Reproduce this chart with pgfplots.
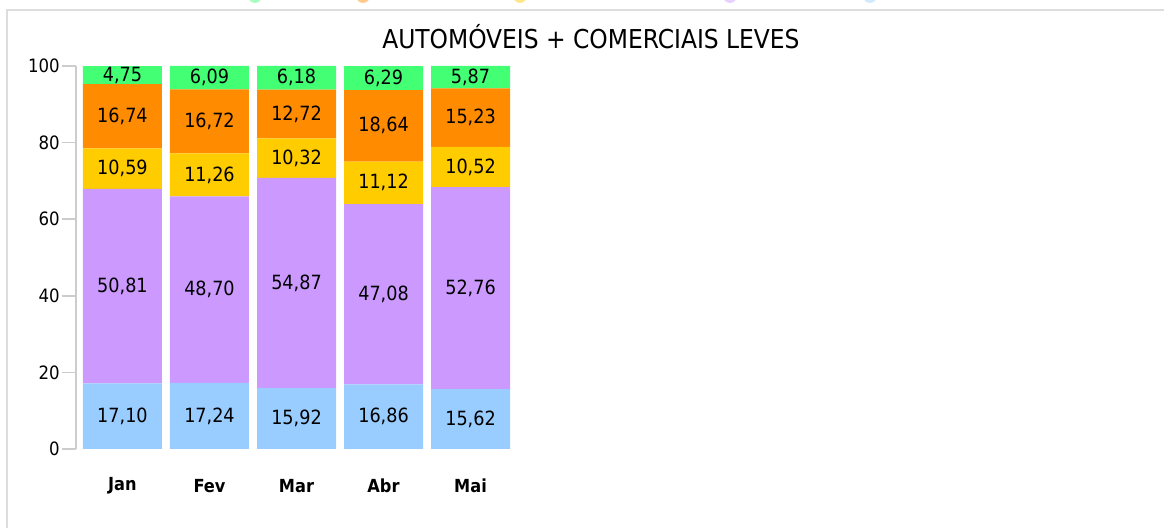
\documentclass[border=0pt]{standalone}
\usepackage{fontspec}
\setmainfont{DejaVu Sans Condensed}
\usepackage{pgfplots}
\usepackage{pgfplotstable}
\pgfplotsset{compat=1.18}

\definecolor{cblue}{HTML}{99CCFF}
\definecolor{cpurple}{HTML}{CC99FF}
\definecolor{cyellow}{HTML}{FFCC00}
\definecolor{corange}{HTML}{FF8C00}
\definecolor{cgreen}{HTML}{42FF74}
\definecolor{frame}{HTML}{DDDDDD}
\definecolor{axisgray}{HTML}{CCCCCC}

% share per month, bottom to top
\pgfplotstableread{
x blue purple yellow orange green
0 17.10 50.81 10.59 16.74 4.75
1 17.24 48.70 11.26 16.72 6.09
2 15.92 54.87 10.32 12.72 6.18
3 16.86 47.08 11.12 18.64 6.29
4 15.62 52.76 10.52 15.23 5.87
}\shares

\begin{document}
\begin{tikzpicture}
\useasboundingbox (0,0) rectangle (582pt,264pt);
% frame of the chart box (top and left edges visible)
\draw[frame, line width=1pt] (3.5pt,0) -- (3.5pt,259pt) -- (582pt,259pt);
% legend markers cut off at the top edge
\foreach \px/\c in {255/cgreen,363/corange,520/cyellow,730/cpurple,870/cblue}
  \fill[\c, opacity=0.45] (\px*0.5pt,266pt) circle (3.5pt);

\node[font=\fontsize{13}{15}\selectfont] at (295.5pt,245.5pt) {AUTOMÓVEIS + COMERCIAIS LEVES};

\begin{axis}[
    at={(38pt,39.5pt)}, anchor=south west,
    scale only axis,
    width=220.5pt, height=191.6pt,
    xmin=-0.534, xmax=4.534,
    ymin=0, ymax=100.05,
    ybar stacked,
    bar width=39.5pt,
    axis y line*=left,
    axis x line*=bottom,
    x axis line style={draw=none},
    y axis line style={draw=axisgray, line width=0.8pt},
    xtick={0,1,2,3,4},
    xticklabels={Jan,Fev,Mar,Abr,Mai},
    xtick style={draw=none},
    xticklabel style={font=\fontsize{9}{11}\selectfont\bfseries, anchor=center, yshift=-11.5pt},
    ytick={0,20,40,60,80,100},
    tick align=outside,
    major tick length=7pt,
    ytick style={draw=axisgray, line width=0.8pt},
    yticklabel style={font=\fontsize{9.2}{11}\selectfont, inner sep=1pt},
    /pgf/number format/assume math mode=true,
    point meta=explicit,
    % stacked labels sit in the middle of each segment
    nodes near coords={\pgfmathprintnumber[fixed, fixed zerofill, precision=2, use comma]{\pgfplotspointmeta}},
    every node near coord/.append style={font=\fontsize{9.8}{11}\selectfont, anchor=center},
]
\addplot[fill=cblue, draw=none] table[x=x, y=blue, meta=blue] {\shares};
\addplot[fill=cpurple, draw=none] table[x=x, y=purple, meta=purple] {\shares};
\addplot[fill=cyellow, draw=none] table[x=x, y=yellow, meta=yellow] {\shares};
\addplot[fill=corange, draw=none] table[x=x, y=orange, meta=orange] {\shares};
\addplot[fill=cgreen, draw=none] table[x=x, y=green, meta=green] {\shares};
\end{axis}
\end{tikzpicture}
\end{document}
